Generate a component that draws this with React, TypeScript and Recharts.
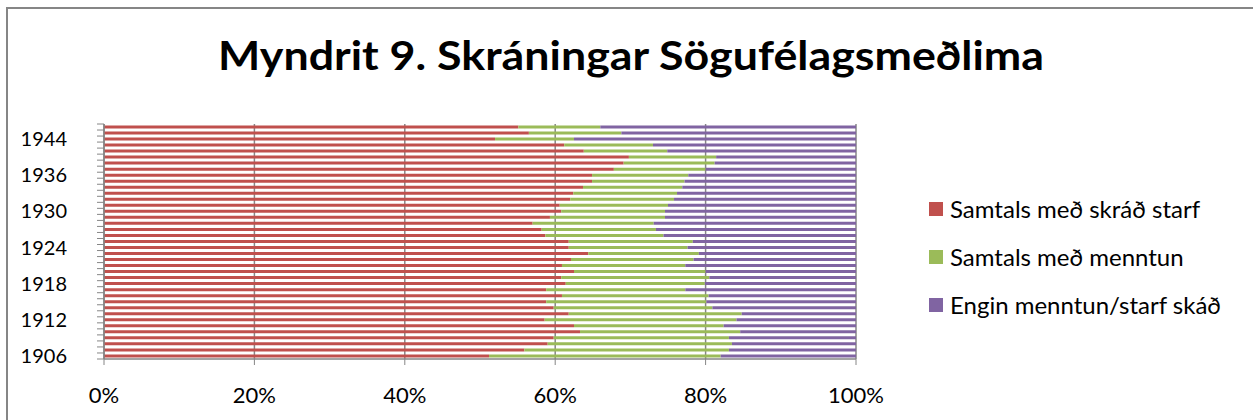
import { BarChart, Bar, XAxis, YAxis, CartesianGrid } from "recharts";

// flokkar (ár), neðst fyrst
const ar = [
  "1906", "1907", "1908", "1909", "1910", "1911", "1912", "1913", "1914", "1915",
  "1916", "1917", "1918", "1919", "1920", "1921", "1922", "1923", "1924", "1925",
  "1926", "1927", "1928", "1929", "1930", "1931", "1932", "1933", "1934", "1935",
  "1936", "1937", "1938", "1939", "1940", "1942", "1944", "1945", "1946",
];

// hlutföll í % (lesin af myndinni)
const skradStarf = [
  51.2, 55.9, 59.0, 59.8, 63.3, 62.5, 58.6, 61.8, 59.8, 58.8,
  60.9, 58.8, 61.4, 60.8, 62.5, 60.9, 62.1, 64.4, 61.8, 61.8,
  58.7, 58.2, 57.0, 59.3, 60.8, 60.6, 62.0, 62.4, 63.7, 64.9,
  64.9, 67.8, 69.1, 69.8, 63.8, 61.2, 52.0, 56.5, 55.1,
];
const medMenntun = [
  30.8, 27.2, 24.5, 23.3, 21.3, 19.9, 25.5, 23.0, 21.1, 21.3,
  19.5, 18.5, 18.5, 19.7, 17.5, 16.4, 16.3, 14.7, 15.8, 16.5,
  15.7, 15.2, 16.1, 15.3, 13.8, 14.4, 13.8, 13.8, 13.2, 12.3,
  12.8, 12.2, 12.1, 11.6, 11.1, 11.8, 10.5, 12.3, 10.9,
];
const enginSkrad = [
  18.0, 16.9, 16.5, 16.9, 15.4, 17.6, 15.9, 15.2, 19.1, 19.9,
  19.6, 22.7, 20.1, 19.5, 20.0, 22.7, 21.6, 20.9, 22.4, 21.7,
  25.6, 26.6, 26.9, 25.4, 25.4, 25.0, 24.2, 23.8, 23.1, 22.8,
  22.3, 20.0, 18.8, 18.6, 25.1, 27.0, 37.5, 31.2, 34.0,
];

const xTicks = [0, 0.2, 0.4, 0.6, 0.8, 1];

const series = [
  { key: "starf", name: "Samtals með skráð starf", color: "#C0504D" },
  { key: "menntun", name: "Samtals með menntun", color: "#9BBB59" },
  { key: "engin", name: "Engin menntun/starf skáð", color: "#8064A2" },
];

const data = ar.map((a, i) => ({
  ar: a,
  starf: skradStarf[i],
  menntun: medMenntun[i],
  engin: enginSkrad[i],
}));

const W = 1253;
const H = 420;
const PLOT_LEFT = 104;
const PLOT_RIGHT = 856;
const PLOT_TOP = 124;
const PLOT_BOTTOM = 359;
const FONT = "Lato, 'Open Sans', sans-serif";
const AXIS = "#868686";

const halfBand = (PLOT_BOTTOM - PLOT_TOP) / ar.length / 2;

function YearTick(props: any) {
  const { y, payload } = props;
  const idx = payload?.index ?? props.index ?? 0;
  return (
    <g>
      <line x1={PLOT_LEFT - 7} x2={PLOT_LEFT} y1={y + halfBand} y2={y + halfBand} stroke={AXIS} strokeWidth={1} />
      {idx === ar.length - 1 && (
        <line x1={PLOT_LEFT - 7} x2={PLOT_LEFT} y1={y - halfBand} y2={y - halfBand} stroke={AXIS} strokeWidth={1} />
      )}
      {idx % 6 === 0 && (
        <text x={67} y={y + 7} textAnchor="end" fontSize={20} fontFamily={FONT} fill="#000">
          {payload.value}
        </text>
      )}
    </g>
  );
}

function PctTick(props: any) {
  const { x, payload } = props;
  return (
    <text x={x} y={403} textAnchor="middle" fontSize={22} fontFamily={FONT} fill="#000">
      {Math.round(payload.value * 100)}%
    </text>
  );
}

export default function App() {
  return (
    <div style={{ position: "absolute", left: 0, top: 0, width: W, height: H, overflow: "hidden", background: "#fff" }}>
      <BarChart
        width={W}
        height={H}
        data={data}
        layout="vertical"
        stackOffset="expand"
        barCategoryGap="24%"
        margin={{ top: PLOT_TOP, right: W - PLOT_RIGHT, bottom: 0, left: 0 }}
      >
        <CartesianGrid horizontal={false} stroke={AXIS} strokeWidth={1.5} />
        <XAxis
          type="number"
          domain={[0, 1]}
          ticks={xTicks}
          height={H - PLOT_BOTTOM}
          tick={<PctTick />}
          tickLine={{ stroke: AXIS }}
          tickSize={6}
          axisLine={{ stroke: AXIS, strokeWidth: 1.5 }}
        />
        <YAxis
          type="category"
          dataKey="ar"
          reversed
          interval={0}
          width={PLOT_LEFT}
          tick={<YearTick />}
          tickLine={false}
          axisLine={{ stroke: AXIS, strokeWidth: 1.5 }}
        />
        {series.map((s) => (
          <Bar key={s.key} dataKey={s.key} name={s.name} stackId="a" fill={s.color} isAnimationActive={false} />
        ))}
      </BarChart>
      <div style={{ position: "absolute", left: 929, top: 197, fontFamily: FONT, fontSize: 24, color: "#000" }}>
        {series.map((s, i) => (
          <div key={s.key} style={{ position: "absolute", left: 0, top: i * 48, display: "flex", alignItems: "center", whiteSpace: "nowrap", height: 24 }}>
            <span style={{ width: 14, height: 14, background: s.color, display: "inline-block", marginRight: 7 }} />
            <span style={{ lineHeight: "24px" }}>{s.name}</span>
          </div>
        ))}
      </div>
      <svg width={W} height={H} style={{ position: "absolute", left: 0, top: 0, pointerEvents: "none" }}>
        <line x1={7} y1={8} x2={W} y2={8} stroke={AXIS} strokeWidth={2} />
        <line x1={7} y1={7} x2={7} y2={H} stroke={AXIS} strokeWidth={2} />
        <text x={631} y={70} textAnchor="middle" fontSize={40} fontWeight="bold" fontFamily={FONT} fill="#000" textLength={826} lengthAdjust="spacingAndGlyphs">
          Myndrit 9. Skráningar Sögufélagsmeðlima
        </text>
      </svg>
    </div>
  );
}
